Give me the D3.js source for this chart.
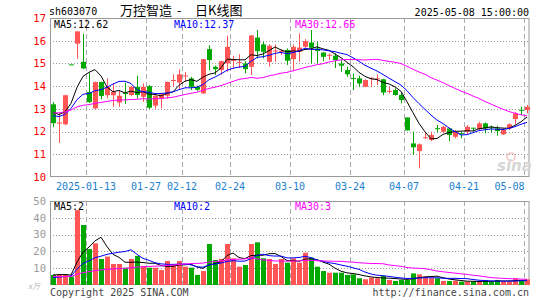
<!DOCTYPE html>
<html>
<head>
<meta charset="utf-8">
<script src="https://cdn.jsdelivr.net/npm/d3@7"></script>
<style>
  body { margin: 0; background: #fff; }
  svg text { font-family: "DejaVu Sans Mono", monospace; font-size: 10px; }
</style>
</head>
<body>
<div id="chart"></div>
<script>
// trading days shown (2025)
const dates = [
  "01-03","01-06","01-07","01-08","01-09","01-10","01-13","01-14","01-15","01-16",
  "01-17","01-20","01-21","01-22","01-23","01-24","01-27","02-05","02-06","02-07",
  "02-10","02-11","02-12","02-13","02-14","02-17","02-18","02-19","02-20","02-21",
  "02-24","02-25","02-26","02-27","02-28","03-03","03-04","03-05","03-06","03-07",
  "03-10","03-11","03-12","03-13","03-14","03-17","03-18","03-19","03-20","03-21",
  "03-24","03-25","03-26","03-27","03-28","03-31","04-01","04-02","04-03","04-07",
  "04-08","04-09","04-10","04-11","04-14","04-15","04-16","04-17","04-18","04-21",
  "04-22","04-23","04-24","04-25","04-28","04-29","04-30","05-06","05-07","05-08"
];

const openP = [
  13.20,12.35,12.32,14.96,15.87,15.07,13.74,13.02,14.18,13.60,
  13.60,13.28,13.70,13.61,13.97,13.53,14.00,13.14,13.46,13.58,
  14.24,14.16,14.45,14.34,13.97,13.68,15.63,14.85,14.71,15.00,
  15.12,15.03,15.00,14.85,16.14,15.84,15.07,15.55,15.52,15.59,
  15.19,15.51,15.73,15.92,15.66,15.48,15.35,15.34,15.00,14.71,
  14.36,14.34,13.97,14.35,14.32,14.30,13.76,13.83,13.61,12.62,
  11.48,11.14,11.72,11.63,12.15,11.99,12.14,11.77,11.93,11.99,
  12.17,12.11,12.36,12.19,12.14,11.88,12.14,12.55,12.96,12.95
];
const highP = [
  13.30,12.80,13.62,14.96,16.41,16.30,14.58,14.20,14.20,14.34,
  14.12,13.83,14.15,14.00,14.46,14.12,14.05,13.60,13.68,14.20,
  14.52,14.74,14.62,14.41,14.03,15.20,15.80,14.90,15.12,16.22,
  15.33,15.40,15.10,16.25,16.47,15.95,15.84,15.84,15.63,15.66,
  15.84,16.32,16.07,16.47,15.95,15.50,15.44,15.44,15.15,14.85,
  14.56,14.46,14.30,14.38,14.52,14.32,13.97,13.90,13.72,12.62,
  12.00,11.48,11.99,11.99,12.29,12.25,12.16,12.07,11.99,12.29,
  12.17,12.43,12.40,12.26,12.26,12.14,12.36,12.87,13.09,13.17
];
const lowP = [
  12.20,11.50,12.28,14.96,15.20,14.75,13.25,13.00,13.42,13.46,
  13.09,13.09,13.22,13.55,13.46,13.31,13.00,13.00,13.02,13.45,
  13.97,13.83,14.20,13.83,13.78,13.65,14.70,14.49,14.50,14.63,
  14.78,14.80,14.56,14.49,15.22,15.22,14.85,15.07,15.37,14.93,
  14.66,15.07,15.69,15.00,15.00,15.10,15.15,14.80,14.63,14.41,
  13.83,13.97,13.95,13.97,14.05,13.60,13.68,13.58,13.24,12.05,
  10.97,10.38,11.67,11.58,11.96,11.95,11.58,11.70,11.70,11.85,
  11.99,12.07,11.92,11.96,11.82,11.85,12.07,12.32,12.73,12.80
];
const closeP = [
  12.37,12.40,13.60,14.96,16.41,14.78,13.30,14.18,13.57,13.97,
  13.75,13.58,13.65,13.97,13.61,13.97,13.05,13.58,13.64,14.19,
  14.27,14.52,14.47,13.97,13.84,15.19,15.15,14.75,15.10,15.73,
  15.15,15.06,14.75,16.23,15.54,15.51,15.78,15.57,15.55,15.12,
  15.73,15.70,15.98,15.69,15.55,15.29,15.38,15.15,14.90,14.52,
  14.34,14.12,14.27,14.37,14.34,13.72,13.79,13.61,13.39,12.05,
  11.31,11.44,11.75,11.85,12.13,12.21,11.85,11.99,11.91,12.21,
  12.17,12.36,12.14,12.17,12.02,12.07,12.32,12.80,12.94,13.09
];
// volume, x10k
const volume = [
  6.0,6.3,6.3,5.0,44.6,35.7,21.4,24.8,15.5,16.9,
  12.5,12.5,10.3,15.5,17.3,11.3,10.3,10.3,8.9,14.3,
  11.9,14.3,10.9,10.3,6.0,8.3,24.4,14.9,15.5,24.4,
  15.9,10.9,11.9,24.4,25.4,15.9,15.5,12.5,15.5,13.3,
  15.9,13.3,19.2,16.3,10.9,8.3,7.3,7.3,7.3,6.0,
  6.3,4.0,3.4,4.4,4.0,5.4,3.0,2.4,3.0,3.0,
  6.9,6.3,5.0,4.0,4.0,2.4,2.4,2.6,2.0,2.0,
  2.0,2.0,3.0,2.0,3.0,2.0,2.0,4.0,3.0,3.4
];

// sessions before the window, only feed the moving averages
const priorClose = [
  12.2,12.3,12.5,12.4,12.6,12.5,12.4,12.5,12.5,12.5,
  13.1,13.4,13.5,13.3,13.2,13.4,13.3,13.3,13.4,13.3,
  12.8,12.6,12.4,12.5,12.45,12.9,13.0,13.1,12.88
];
const priorVolume = [
  5,6,5,5,6,5,5,5,6,5,
  5,6,5,5,5,6,5,5,6,5,
  3,3,2.5,3,2.5,5.5,6,6.5,6
];

const tickDates = ["01-13","01-27","02-12","02-24","03-10","03-24","04-07","04-21","05-08"];
const priceTicks = [10, 11, 12, 13, 14, 15, 16, 17];
const volTicks = [10, 20, 30, 40, 50];

const priceLegend = ["MA5:12.62", "MA10:12.37", "MA30:12.66"];
const volLegend = ["MA5:2", "MA10:2", "MA30:3"];
const maPeriods = [5, 10, 30];
const maColors = ["#000000", "#0000ff", "#ff00ff"];

const up = "#ff5555", down = "#00a800";

const width = 545, height = 300;
const left = 50, right = 530;

const svg = d3.select("#chart").append("svg")
  .attr("width", width)
  .attr("height", height);

const x = d3.scaleBand().domain(dates).range([left, right]);
const yP = d3.scaleLinear().domain([10, 17]).range([177, 18]);
const yV = d3.scaleLinear().domain([0, 50]).range([285, 201]);
const bw = x.bandwidth();
const cx = d => x(d) + bw / 2;

const data = dates.map((d, i) => ({
  date: d, open: openP[i], high: highP[i], low: lowP[i], close: closeP[i], vol: volume[i]
}));

function movingAvg(prior, vals, n) {
  const all = prior.concat(vals);
  return vals.map((v, i) => d3.mean(all.slice(prior.length + i - n + 1, prior.length + i + 1)));
}

// header
svg.append("text").attr("x", 49).attr("y", 15).text("sh603070");
const title = svg.append("text").attr("y", 14.5)
  .style("font-family", "'Noto Sans CJK SC', sans-serif").style("font-size", "13px");
title.append("tspan").attr("x", 120).text("万控智造");
title.append("tspan").attr("x", 177).text("-");
title.append("tspan").attr("x", 195).text("日K线图");
svg.append("text").attr("x", 529).attr("y", 15.5).attr("text-anchor", "end")
  .text("2025-05-08 15:00:00");

// panels: grid + frame
function panel(y, ticks, top, bottom) {
  const g = svg.append("g");
  g.selectAll(".hg").data(ticks.filter(t => y(t) > top + 1 && y(t) < bottom - 1)).join("line")
    .attr("x1", left).attr("x2", right - 1)
    .attr("y1", t => Math.round(y(t)) + 0.5).attr("y2", t => Math.round(y(t)) + 0.5)
    .attr("stroke", "#999").attr("stroke-dasharray", "1,2");
  g.selectAll(".vg").data(tickDates).join("line")
    .attr("x1", d => x(d) + 0.5).attr("x2", d => x(d) + 0.5)
    .attr("y1", top).attr("y2", bottom)
    .attr("stroke", "#aaa").attr("stroke-dasharray", "5,3");
  g.append("rect")
    .attr("x", left + 0.5).attr("y", top + 0.5)
    .attr("width", right - left - 1.5).attr("height", bottom - top - 1)
    .attr("fill", "none").attr("stroke", "#999");
}
panel(yP, priceTicks, 18, 177);
panel(yV, volTicks, 201, 285);

// y axes
const pAxis = svg.append("g").attr("transform", `translate(${left},0)`)
  .call(d3.axisLeft(yP).tickValues(priceTicks).tickSize(0).tickPadding(4).tickFormat(d3.format("d")));
pAxis.select(".domain").remove();
pAxis.selectAll("text").attr("fill", "#ff0000").style("font-size", "10.5px");

const vAxis = svg.append("g").attr("transform", `translate(${left},0)`)
  .call(d3.axisLeft(yV).tickValues(volTicks).tickSize(0).tickPadding(4).tickFormat(d3.format("d")));
vAxis.select(".domain").remove();
vAxis.selectAll("text").attr("fill", "#999").style("font-size", "10.5px");

// date labels
svg.selectAll(".xl").data(tickDates).join("text")
  .attr("x", d => x(d) + 15 > 525 ? 524.5 : x(d))
  .attr("y", 190)
  .attr("text-anchor", d => x(d) + 15 > 525 ? "end" : "middle")
  .attr("fill", "#1a80d0")
  .text((d, i) => i === 0 ? "2025-" + d : d);

// watermark
svg.append("circle").attr("cx", 511).attr("cy", 157).attr("r", 4)
  .attr("fill", "none").attr("stroke", "#f4c4c4").attr("stroke-width", 1.5);
svg.append("text").attr("x", 497).attr("y", 171)
  .style("font-family", "'DejaVu Sans', sans-serif").style("font-size", "15px")
  .style("font-weight", "bold").style("font-style", "italic")
  .attr("fill", "#d6d6d6").text("sina");

// candles
const isUp = d => d.close > d.open;
svg.append("g").selectAll("line").data(data).join("line")
  .attr("x1", d => Math.floor(cx(d.date)) + 0.5).attr("x2", d => Math.floor(cx(d.date)) + 0.5)
  .attr("y1", d => yP(d.high)).attr("y2", d => yP(d.low))
  .attr("stroke", d => isUp(d) ? up : down);
svg.append("g").selectAll("rect").data(data).join("rect")
  .attr("x", d => Math.floor(cx(d.date)) - 2)
  .attr("width", 5)
  .attr("y", d => yP(Math.max(d.open, d.close)))
  .attr("height", d => Math.max(1, Math.abs(yP(d.open) - yP(d.close))))
  .attr("fill", d => isUp(d) ? up : down);

// volume bars
svg.append("g").selectAll("rect").data(data).join("rect")
  .attr("x", d => Math.floor(cx(d.date)) - 2)
  .attr("width", 5)
  .attr("y", d => yV(d.vol))
  .attr("height", d => yV(0) - yV(d.vol))
  .attr("fill", d => isUp(d) ? up : down);

// moving averages
maPeriods.forEach((n, k) => {
  const pm = movingAvg(priorClose, closeP, n);
  const vm = movingAvg(priorVolume, volume, n);
  svg.append("path").datum(pm)
    .attr("fill", "none").attr("stroke", maColors[k]).attr("stroke-width", 1)
    .attr("d", d3.line().x((v, i) => cx(dates[i])).y(v => yP(v)));
  svg.append("path").datum(vm)
    .attr("fill", "none").attr("stroke", maColors[k]).attr("stroke-width", 1)
    .attr("d", d3.line().x((v, i) => cx(dates[i])).y(v => yV(v)));
});

// legends
const legendX = [54, 174, 295];
svg.selectAll(".pl").data(priceLegend).join("text")
  .attr("x", (d, i) => legendX[i]).attr("y", 27.5)
  .attr("fill", (d, i) => maColors[i]).text(d => d);
svg.selectAll(".vl").data(volLegend).join("text")
  .attr("x", (d, i) => legendX[i]).attr("y", 210)
  .attr("fill", (d, i) => maColors[i]).text(d => d);

// footer
svg.append("text").attr("x", 28).attr("y", 289)
  .style("font-family", "'Noto Sans CJK SC', sans-serif").style("font-size", "8px")
  .style("font-style", "italic").attr("fill", "#bbb").text("x万");
svg.append("text").attr("x", 50).attr("y", 295.5).attr("fill", "#444")
  .text("Copyright 2025 SINA.COM");
svg.append("text").attr("x", 529).attr("y", 295.5).attr("text-anchor", "end").attr("fill", "#444")
  .text("http://finance.sina.com.cn");
</script>
</body>
</html>
